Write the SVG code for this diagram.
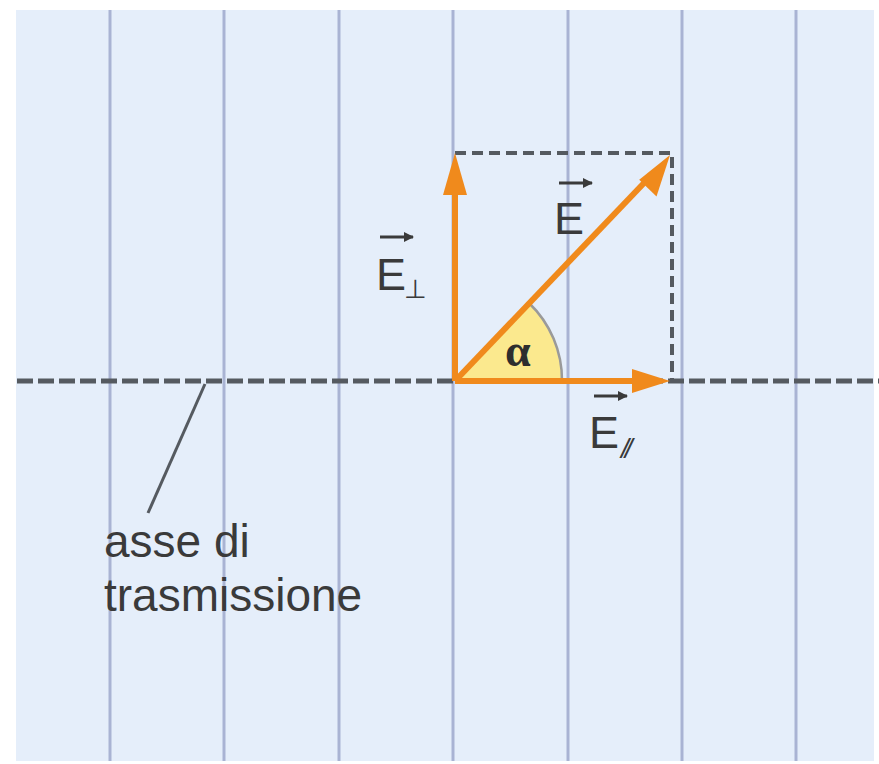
<svg xmlns="http://www.w3.org/2000/svg" width="879" height="764" viewBox="0 0 879 764">
<defs>
<style>
.grid{stroke:#a9b3d3;stroke-width:3}
.dash{stroke:#555a60;fill:none}
.vec{stroke:#f08a1c;stroke-width:6;fill:none}
.head{fill:#f08a1c}
.lbl{font-family:"Liberation Sans",Arial,sans-serif;fill:#3a3a3a}
.varr{stroke:#3a3a3a;stroke-width:3}
</style>
<marker id="sm" viewBox="0 0 10 10" refX="9" refY="5" markerWidth="10" markerHeight="10" orient="auto" markerUnits="userSpaceOnUse">
<path d="M0,0 L10,5 L0,10 z" fill="#3a3a3a"/>
</marker>
</defs>
<rect x="0" y="0" width="879" height="764" fill="#ffffff"/>
<rect x="16" y="10" width="858" height="751" fill="#e5eefa"/>
<g id="grid">
<line class="grid" x1="110" y1="10" x2="110" y2="761"/>
<line class="grid" x1="224" y1="10" x2="224" y2="761"/>
<line class="grid" x1="339" y1="10" x2="339" y2="761"/>
<line class="grid" x1="453" y1="10" x2="453" y2="761"/>
<line class="grid" x1="568" y1="10" x2="568" y2="761"/>
<line class="grid" x1="682" y1="10" x2="682" y2="761"/>
<line class="grid" x1="796" y1="10" x2="796" y2="761"/>
</g>
<g id="angle">
<path d="M455,381 L562,381 A107,107 0 0 0 529,303 Z" fill="#fbe98e"/>
<path d="M562,381 A107,107 0 0 0 529,303" fill="none" stroke="#9a9a9a" stroke-width="2.5"/>
<text x="505" y="366" font-family="'Liberation Serif','Times New Roman',serif" font-size="46" font-weight="bold" fill="#2e2e2e">α</text>
</g>
<g id="connectors">
<line class="dash" x1="17" y1="381" x2="879" y2="381" stroke-width="5" stroke-dasharray="16 5"/>
<path class="dash" d="M455,153 L672,153 L672,381" stroke-width="4" stroke-dasharray="11 6"/>
<line x1="205" y1="384" x2="148" y2="513" stroke="#555a60" stroke-width="3"/>
</g>
<g id="E-perp">
<line class="vec" x1="455" y1="381" x2="455" y2="190"/>
<path class="head" d="M455,153 L467,195 L443,195 Z"/>
</g>
<g id="E-par">
<line class="vec" x1="455" y1="381" x2="636" y2="381"/>
<path class="head" d="M670,381 L632,393 L632,369 Z"/>
</g>
<g id="E">
<line class="vec" x1="455" y1="381" x2="644" y2="183"/>
<path class="head" d="M670,155 L656.5,196.4 L639.2,179.8 Z"/>
</g>
<g id="label-E">
<text class="lbl" x="554" y="234" font-size="45">E</text>
<line class="varr" x1="559" y1="183" x2="592" y2="183" marker-end="url(#sm)"/>
</g>
<g id="label-Eperp">
<text class="lbl" x="376" y="290" font-size="45">E</text>
<line class="varr" x1="380" y1="237" x2="413" y2="237" marker-end="url(#sm)"/>
<text class="lbl" x="404" y="298" font-size="26">⊥</text>
</g>
<g id="label-Epar">
<text class="lbl" x="589" y="448" font-size="45">E</text>
<line class="varr" x1="594" y1="396" x2="627" y2="396" marker-end="url(#sm)"/>
<text class="lbl" x="621" y="458" font-size="28" font-style="italic" letter-spacing="-4" fill="#6a6a6a">//</text>
</g>
<g id="label-axis">
<text class="lbl" x="104" y="557" font-size="46">asse di</text>
<text class="lbl" x="104" y="611" font-size="46">trasmissione</text>
</g>
</svg>
